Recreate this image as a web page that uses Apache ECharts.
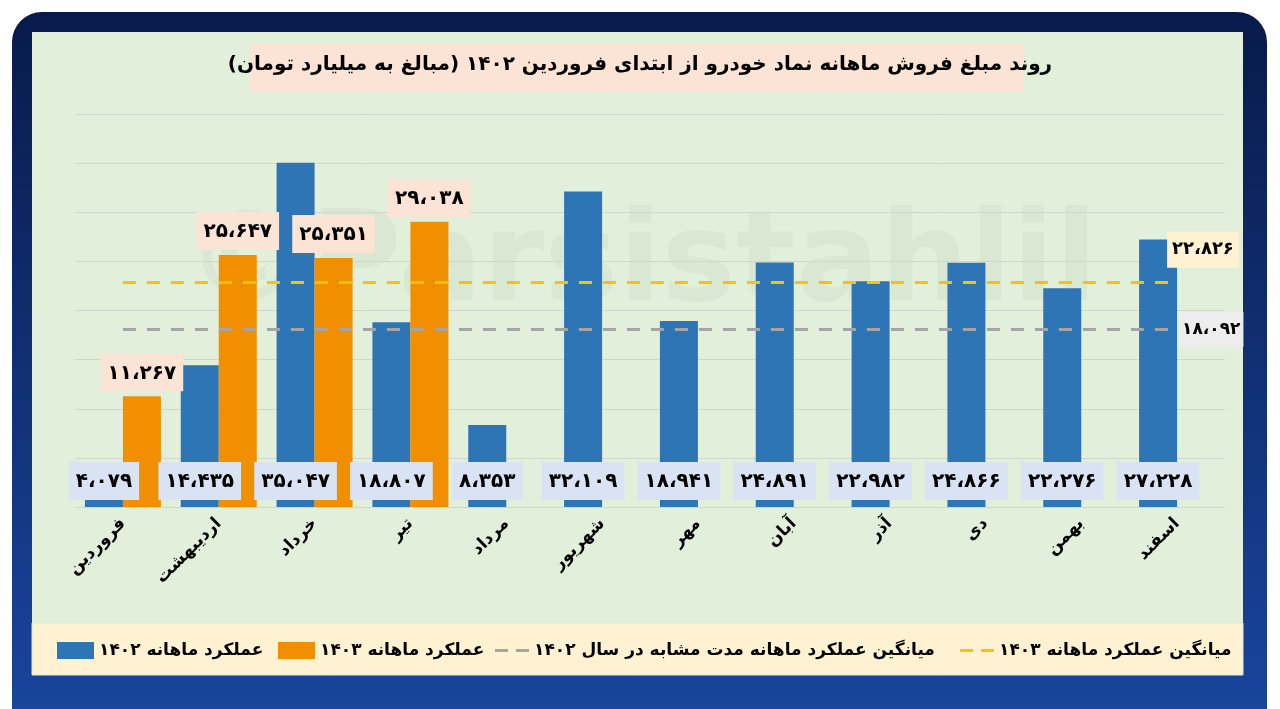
<!DOCTYPE html>
<html><head><meta charset="utf-8">
<script src="https://cdn.jsdelivr.net/npm/echarts@6/dist/echarts.min.js"></script>
<style>html,body{margin:0;padding:0;background:#fff;overflow:hidden}#c{width:1280px;height:709px;direction:rtl}</style>
</head><body><div id="c"></div>
<script>
const months = ['فروردین','اردیبهشت','خرداد','تیر','مرداد','شهریور','مهر','آبان','آذر','دی','بهمن','اسفند'];
const sales1402 = [4079,14435,35047,18807,8353,32109,18941,24891,22982,24866,22276,27228];
const sales1403 = [11267,25647,25351,29038,null,null,null,null,null,null,null,null];
const avgSimilar1402 = 18092;
const avg1403 = 22826;
const yTicks = {min:0, max:40000, interval:5000};
const titleText = 'روند مبلغ فروش ماهانه نماد خودرو از ابتدای فروردین ۱۴۰۲ (مبالغ به میلیارد تومان)';
const names = ['عملکرد ماهانه ۱۴۰۲','عملکرد ماهانه ۱۴۰۳','میانگین عملکرد ماهانه مدت مشابه در سال ۱۴۰۲','میانگین عملکرد ماهانه ۱۴۰۳'];

const FONT = 'DejaVu Sans';
function fa(v){
  const s = String(v).replace(/\B(?=(\d{3})+(?!\d))/g,'،');
  return s.replace(/\d/g, d => '۰۱۲۳۴۵۶۷۸۹'[d]);
}
const BLUE = '#2e75b6', ORANGE = '#f18f01', GRAY = '#a5a5a5', YELLOW = '#ffc000';
const DASH_ICON = 'path://M0,0H13V3H0Z M21,0H34V3H21Z';

const chart = echarts.init(document.getElementById('c'), null, {renderer:'canvas'});
const legendCommon = {
  orient:'horizontal', top:637, itemHeight:17, itemWidth:37, itemGap:6, selectedMode:false,
  textStyle:{fontFamily:FONT, fontWeight:'bold', fontSize:17, color:'#000'}
};
chart.setOption({
  animation:false,
  graphic:[
    {type:'rect', z:-100, shape:{x:12,y:12,width:1255,height:740,r:30},
     style:{fill:new echarts.graphic.LinearGradient(0,0,0,1,[{offset:0,color:'#081a4a'},{offset:1,color:'#1a47a2'}])}},
    {type:'rect', z:-99, shape:{x:32,y:32,width:1211,height:591}, style:{fill:'#e2efda'}},
    {type:'rect', z:-99, shape:{x:32,y:623,width:1211,height:52}, style:{fill:'#fef2d3', stroke:'#dfe8d8', lineWidth:1}},
    {type:'rect', z:-98, shape:{x:250,y:44,width:773,height:47}, style:{fill:'#fbe4d5'}},
    {type:'text', z:-97, left:185, top:205,
     style:{text:'\u200E©\u200EParsistahlil', font:'bold 125px "DejaVu Sans"', fill:'rgba(0,0,0,0.03)'}}
  ],
  title:{text:titleText, left:'center', top:55, padding:0,
    textStyle:{fontFamily:FONT, fontWeight:'bold', fontSize:20, color:'#000'}},
  legend:[
    Object.assign({}, legendCommon, {left:52, data:[{name:names[0], icon:'rect'}]}),
    Object.assign({}, legendCommon, {left:273, data:[{name:names[1], icon:'rect'}]}),
    Object.assign({}, legendCommon, {left:490, itemHeight:3, itemWidth:34, itemGap:8, data:[{name:names[2], icon:DASH_ICON}]}),
    Object.assign({}, legendCommon, {left:955, itemHeight:3, itemWidth:34, itemGap:8, data:[{name:names[3], icon:DASH_ICON}]})
  ],
  grid:{left:75, right:55, top:114, bottom:202},
  xAxis:{type:'category', data:months,
    axisLine:{show:false}, axisTick:{show:false},
    axisLabel:{rotate:45, margin:14, fontFamily:FONT, fontWeight:'bold', fontSize:17, color:'#000', interval:0}},
  yAxis:{type:'value', min:yTicks.min, max:yTicks.max, interval:yTicks.interval,
    axisLabel:{show:false}, axisLine:{show:false}, axisTick:{show:false},
    splitLine:{lineStyle:{color:'#cfd6cb', width:1}}},
  series:[
    {name:names[0], type:'bar', data:sales1402, barWidth:38, barGap:'0%',
      itemStyle:{color:BLUE},
      label:{show:true, position:'insideBottom', distance:7, formatter:p=>fa(p.value),
        backgroundColor:'#dae3f3', padding:[10,7,8,7], fontFamily:FONT, fontWeight:'bold', fontSize:20, color:'#000'}},
    {name:names[1], type:'bar', data:sales1403, barWidth:38, barGap:'0%',
      itemStyle:{color:ORANGE},
      label:{show:true, position:'top', distance:5, formatter:p=>p.value==null?'':fa(p.value),
        backgroundColor:'#fbe4d5', padding:[10,7,8,7], fontFamily:FONT, fontWeight:'bold', fontSize:20, color:'#000'}},
    {name:names[2], type:'line', data:[], symbol:'none',
      lineStyle:{color:GRAY, width:3, type:[13,11]}, itemStyle:{color:GRAY},
      markLine:{silent:true, symbol:['none','none'],
        lineStyle:{color:GRAY, width:3, type:[13,11]},
        label:{show:true, position:'end', distance:0, offset:[2,0], formatter:()=>fa(avgSimilar1402),
          backgroundColor:'#ededed', padding:[10,3,8,3], fontFamily:FONT, fontWeight:'bold', fontSize:17, color:'#000'},
        data:[[{coord:[0, avgSimilar1402]},{coord:[11, avgSimilar1402]}]]}},
    {name:names[3], type:'line', data:[], symbol:'none',
      lineStyle:{color:YELLOW, width:3, type:[13,11]}, itemStyle:{color:YELLOW},
      markLine:{silent:true, symbol:['none','none'],
        lineStyle:{color:YELLOW, width:3, type:[13,11]},
        label:{show:true, position:'end', distance:0, offset:[-10,-33], formatter:()=>fa(avg1403),
          backgroundColor:'#fef2d3', padding:[10,5,8,5], fontFamily:FONT, fontWeight:'bold', fontSize:18, color:'#000'},
        data:[[{coord:[0, avg1403]},{coord:[11, avg1403]}]]}}
  ]
});
</script></body></html>
